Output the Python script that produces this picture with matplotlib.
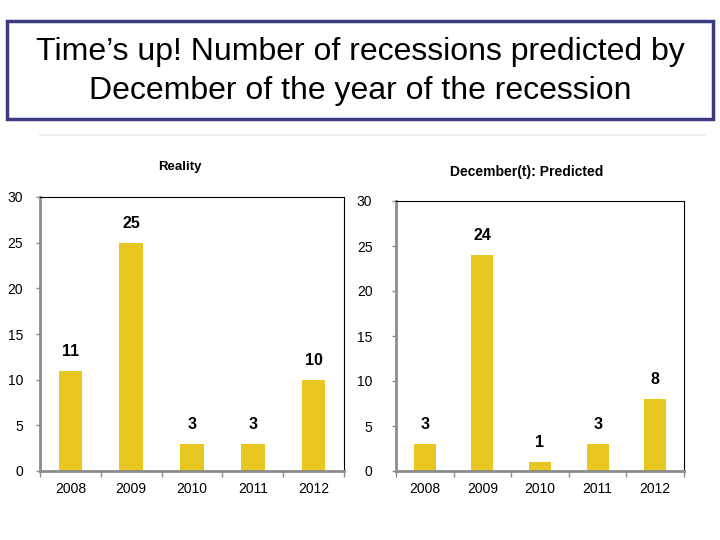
import numpy as np
import matplotlib.pyplot as plt
from matplotlib.patches import Rectangle

plt.rcParams['font.family'] = ['Liberation Sans', 'DejaVu Sans']

years = ['2008', '2009', '2010', '2011', '2012']
reality = [11, 25, 3, 3, 10]
predicted = [3, 24, 1, 3, 8]

bar_color = '#E8C720'
spine_gray = '#8C8C8C'

fig = plt.figure(figsize=(7.2, 5.4), dpi=100)
W, H = 720, 540


def px_axes(x0, y0, x1, y1):
    return fig.add_axes([x0 / W, 1 - y1 / H, (x1 - x0) / W, (y1 - y0) / H])


# title box
fig.patches.append(Rectangle((7 / W, 1 - 119 / H), 706 / W, 98 / H, transform=fig.transFigure,
                             fill=False, edgecolor='#3C3A7E', linewidth=2.5))
fig.text(0.5, 1 - 52 / H, "Time’s up! Number of recessions predicted by", ha='center', va='center',
         fontsize=23)
fig.text(0.5, 1 - 91 / H, "December of the year of the recession", ha='center', va='center',
         fontsize=23)
fig.add_artist(plt.Line2D([40 / W, 705 / W], [1 - 135 / H, 1 - 135 / H], color='#EEEEEE', lw=1.5))


def draw(ax, vals, width, pad):
    x = np.arange(len(vals))
    ax.bar(x, vals, width=width, color=bar_color, edgecolor='none')
    for xi, v in zip(x, vals):
        ax.annotate(str(v), (xi, v), xytext=(0, 14), textcoords='offset points',
                    ha='center', va='center', fontsize=11.5, fontweight='bold')
    ax.set_xlim(-0.5, len(vals) - 0.5)
    ax.set_ylim(0, 30)
    ax.set_yticks(range(0, 31, 5))
    ax.set_xticks(x)
    ax.set_xticklabels(years)
    ax.set_xticks(np.arange(-0.5, len(vals), 1), minor=True)
    ax.tick_params(axis='x', which='major', length=0, pad=8, labelsize=10)
    ax.tick_params(axis='x', which='minor', length=4, color=spine_gray, width=1)
    ax.tick_params(axis='y', length=3, color=spine_gray, width=1, pad=pad, labelsize=10)
    for s in ['left', 'bottom']:
        ax.spines[s].set_color(spine_gray)
        ax.spines[s].set_linewidth(2)
    for s in ['top', 'right']:
        ax.spines[s].set_color('black')
        ax.spines[s].set_linewidth(0.8)


ax1 = px_axes(40, 197, 344, 471)
draw(ax1, reality, 0.39, 9)
fig.text(180 / W, 1 - 167 / H, 'Reality', ha='center', va='center', fontsize=9.5, fontweight='bold')

ax2 = px_axes(396, 201, 684, 471)
draw(ax2, predicted, 0.38, 14)
fig.text(527 / W, 1 - 172 / H, 'December(t): Predicted', ha='center', va='center', fontsize=10,
         fontweight='bold')

fig.savefig('out.png', dpi=100)
